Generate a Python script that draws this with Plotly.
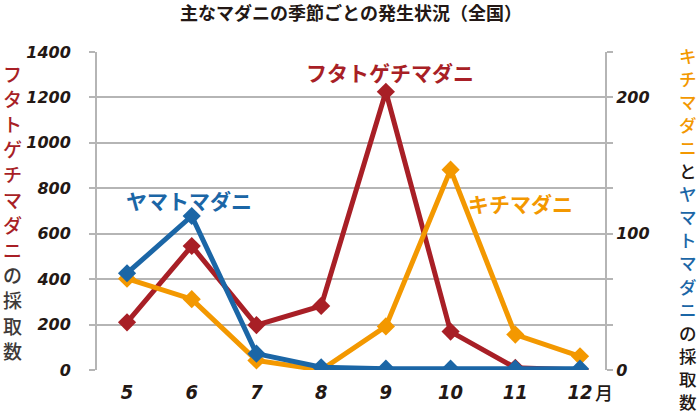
import plotly.graph_objects as go

months = [5, 6, 7, 8, 9, 10, 11, 12]
month_labels = ["5", "6", "7", "8", "9", "10", "11", "12"]
futatoge = [210, 546, 198, 282, 1225, 169, 10, 0]      # left axis
kichi = [67, 52, 7, 0, 32, 147, 26, 10]                # right axis
yamato = [71, 113, 12, 2, 1, 1, 1, 1]                  # right axis
left_ticks = [0, 200, 400, 600, 800, 1000, 1200, 1400]
right_ticks = [0, 100, 200]

RED = "#a81f26"
BLUE = "#1b66a6"
ORANGE = "#f39800"
DARK = "#231815"
GRID = "#b5b5b5"
CJK = "Noto Sans CJK JP"
YTICKFONT = dict(family="DejaVu Sans", size=16, color=DARK, weight="bold", style="italic")
XTICKFONT = dict(family="DejaVu Sans Condensed, DejaVu Sans", size=20, color=DARK,
                 weight="bold", style="italic")

# plot-area geometry (px) used to place the vertical axis titles
L, T, W, H = 97, 52, 508, 318

fig = go.Figure()
fig.add_trace(go.Scatter(x=months, y=futatoge, mode="lines+markers", yaxis="y",
                         line=dict(color=RED, width=5),
                         marker=dict(symbol="diamond", size=14, color=RED)))
fig.add_trace(go.Scatter(x=months, y=kichi, mode="lines+markers", yaxis="y2",
                         line=dict(color=ORANGE, width=5),
                         marker=dict(symbol="diamond", size=14, color=ORANGE)))
fig.add_trace(go.Scatter(x=months, y=yamato, mode="lines+markers", yaxis="y2",
                         line=dict(color=BLUE, width=5),
                         marker=dict(symbol="diamond", size=14, color=BLUE)))

def vertical_text(parts, cx, top, pitch, size):
    anns = []
    i = 0
    for txt, col in parts:
        for ch in txt:
            py = top + i * pitch
            anns.append(dict(text=ch, xref="paper", yref="paper",
                             x=(cx - L) / W, y=(T + H - py) / H,
                             xanchor="center", yanchor="middle", showarrow=False,
                             font=dict(family=CJK, size=size, color=col, weight=500)))
            i += 1
    return anns

annotations = []
annotations += vertical_text([("フタトゲチマダニ", RED), ("の採取数", "#3e3a39")],
                             cx=12, top=73, pitch=25.2, size=19)
annotations += vertical_text([("キチマダニ", ORANGE), ("と", DARK), ("ヤマトマダニ", BLUE),
                              ("の採取数", DARK)],
                             cx=688, top=55, pitch=23.1, size=17.5)
annotations += [
    dict(text="月", xref="paper", yref="paper", x=0.998, y=-0.069, xanchor="center",
         yanchor="middle", showarrow=False, font=dict(family=CJK, size=18, color=DARK, weight=500)),
    dict(text="<b>フタトゲチマダニ</b>", xref="paper", yref="paper", x=0.577, y=0.937,
         xanchor="center", yanchor="middle", showarrow=False,
         font=dict(family=CJK, size=21, color=RED)),
    dict(text="<b>ヤマトマダニ</b>", xref="paper", yref="paper", x=0.181, y=0.535,
         xanchor="center", yanchor="middle", showarrow=False,
         font=dict(family=CJK, size=21, color=BLUE)),
    dict(text="<b>キチマダニ</b>", xref="paper", yref="paper", x=0.833, y=0.525,
         xanchor="center", yanchor="middle", showarrow=False,
         font=dict(family=CJK, size=21, color=ORANGE)),
]

fig.update_layout(
    width=700, height=420,
    margin=dict(l=L, r=700 - L - W, t=T, b=420 - T - H),
    paper_bgcolor="white", plot_bgcolor="white",
    showlegend=False,
    title=dict(text="<b>主なマダニの季節ごとの発生状況（全国）</b>", x=0.5, xref="paper",
               xanchor="center", y=0.968, yanchor="middle",
               font=dict(family=CJK, size=18, color=DARK)),
    xaxis=dict(range=[4.536, 12.386], tickvals=months, ticktext=month_labels,
               showgrid=False, zeroline=False, showline=False, ticks="",
               tickfont=XTICKFONT, ticklabelstandoff=8),
    yaxis=dict(range=[0, 1400], tickvals=left_ticks, showgrid=True, gridcolor=GRID,
               gridwidth=2, zeroline=False, showline=True, linecolor=GRID, linewidth=2,
               ticks="outside", ticklen=6, tickcolor=GRID, tickwidth=2,
               tickfont=YTICKFONT, ticklabelstandoff=15),
    yaxis2=dict(range=[0, 1400 / 6], tickvals=right_ticks, overlaying="y", side="right",
                showgrid=False, zeroline=False, showline=True, linecolor=GRID, linewidth=2,
                ticks="outside", ticklen=6, tickcolor=GRID, tickwidth=2,
                minor=dict(dtick=100 / 3, ticks="outside", ticklen=6, tickcolor=GRID, tickwidth=2),
                tickfont=YTICKFONT, ticklabelstandoff=0),
    annotations=annotations,
)

fig.write_html("out.html", config={"displayModeBar": False},
               post_script="document.body.style.margin='0';document.body.style.padding='0';")
